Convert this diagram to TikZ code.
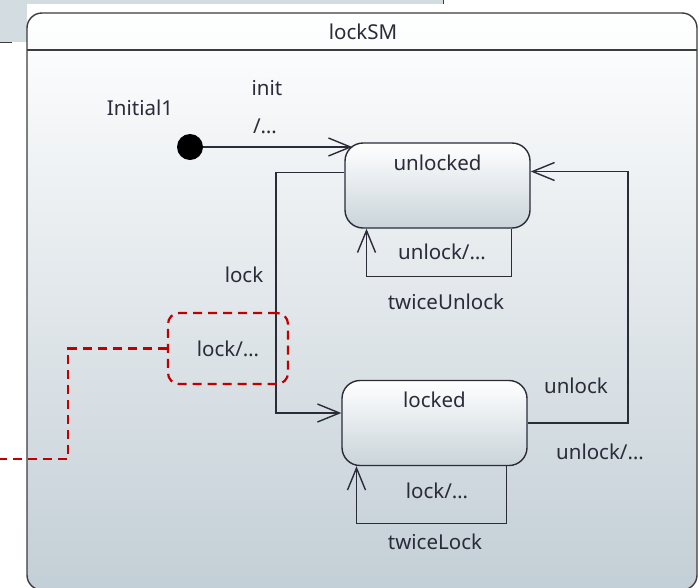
\documentclass[tikz,border=0pt]{standalone}
\usepackage{fontspec}
\setmainfont{Noto Sans}
\usetikzlibrary{positioning,arrows.meta,calc}
\definecolor{ink}{HTML}{2B2B3A}
\definecolor{frameline}{HTML}{3C3C3C}
\definecolor{bodybot}{HTML}{C3CFD6}
\definecolor{statebot}{HTML}{C9D4DA}
\definecolor{tabgray}{HTML}{D3DCE0}
\definecolor{notered}{HTML}{C00000}
\newcommand{\lbl}{\fontsize{20.5pt}{24pt}\selectfont}
\tikzset{
  statebox/.style={draw=ink, line width=1.4pt, rounded corners=18pt, top color=white,
    bottom color=statebot, minimum width=185pt, minimum height=85pt},
  statename/.style={anchor=north, yshift=-9pt, font=\lbl, text=ink},
  initdot/.style={circle, fill=black, minimum size=26pt, inner sep=0pt},
  trans/.style={-{Straight Barb[length=22pt,width=18pt,line width=1.4pt]}, line width=1.4pt, color=ink},
  lab/.style={font=\lbl, text=ink, inner sep=1pt},
  guardbox/.style={draw=notered, line width=2.2pt, dash pattern=on 9pt off 6pt, rounded corners=11pt,
    minimum width=120pt, minimum height=71pt, font=\lbl, text=ink},
  noteline/.style={draw=notered, line width=2.2pt, dash pattern=on 9pt off 6pt},
}

\begin{document}
\begin{tikzpicture}[x=1pt, y=-1pt]
    \useasboundingbox (0,0) rectangle (700,587);
    % tab strip behind the frame
    \fill[tabgray] (0,0) rectangle (443,4);
    \fill[tabgray] (0,0) rectangle (27,42);
    \draw[frameline, line width=1pt] (0,42) -- (12,42) (443,0) -- (443,4);
    % state machine frame
    \path[draw=frameline, line width=1.4pt, rounded corners=15pt, top color=white, bottom color=bodybot]
      (27,13) rectangle (697,590);
    \draw[frameline, line width=1.4pt] (27,50) -- (697,50);
    \node[lab] (title) at (363,32) {lockSM};

    % states
    \node[initdot] (init) at (190,147) {};
    \node[lab] (initname) at (140,108) {Initial1};
    \node[statebox, label={[statename]north:unlocked}] (unlocked) at (437.5,185.5) {};
    \node[statebox, label={[statename]north:locked}] (locked) at (434.5,423) {};
    \coordinate (lockbend) at (276,300);
    \coordinate (unlockbend) at (628,300);

    % transitions
    \draw[trans] (init) -- ([xshift=8pt]unlocked.west |- init);
    \node[lab] (initev) at (267,88) {init};
    \node[lab] (initact) at (265,126) {/…};

    \draw[trans] ([yshift=13pt]unlocked.west) -| (lockbend) |- ([yshift=10pt]locked.west);
    \node[lab] (lockev) at (244,275) {lock};
    \node[guardbox] (lockact) at (228,348.5) {lock/…};
    \coordinate (noteend) at (0,459);
    \draw[noteline] (lockact.west) -| (68,459) -- (noteend);

    \draw[trans] (locked.east) -| (unlockbend) |- ([yshift=14pt]unlocked.east);
    \node[lab] (unlockev) at (576,386) {unlock};
    \node[lab] (unlockact) at (600,452) {unlock/…};

    \draw[trans] ([xshift=74pt]unlocked.south) -- ++(0,48) -| ([xshift=-71pt]unlocked.south);
    \node[lab] (twuact) at (442,252) {unlock/…};
    \node[lab] (twu) at (446,302) {twiceUnlock};

    \draw[trans] ([xshift=72pt]locked.south) -- ++(0,57) -| ([xshift=-78pt]locked.south);
    \node[lab] (twlact) at (437,491) {lock/…};
    \node[lab] (twl) at (435,542) {twiceLock};
  \end{tikzpicture}
\end{document}
